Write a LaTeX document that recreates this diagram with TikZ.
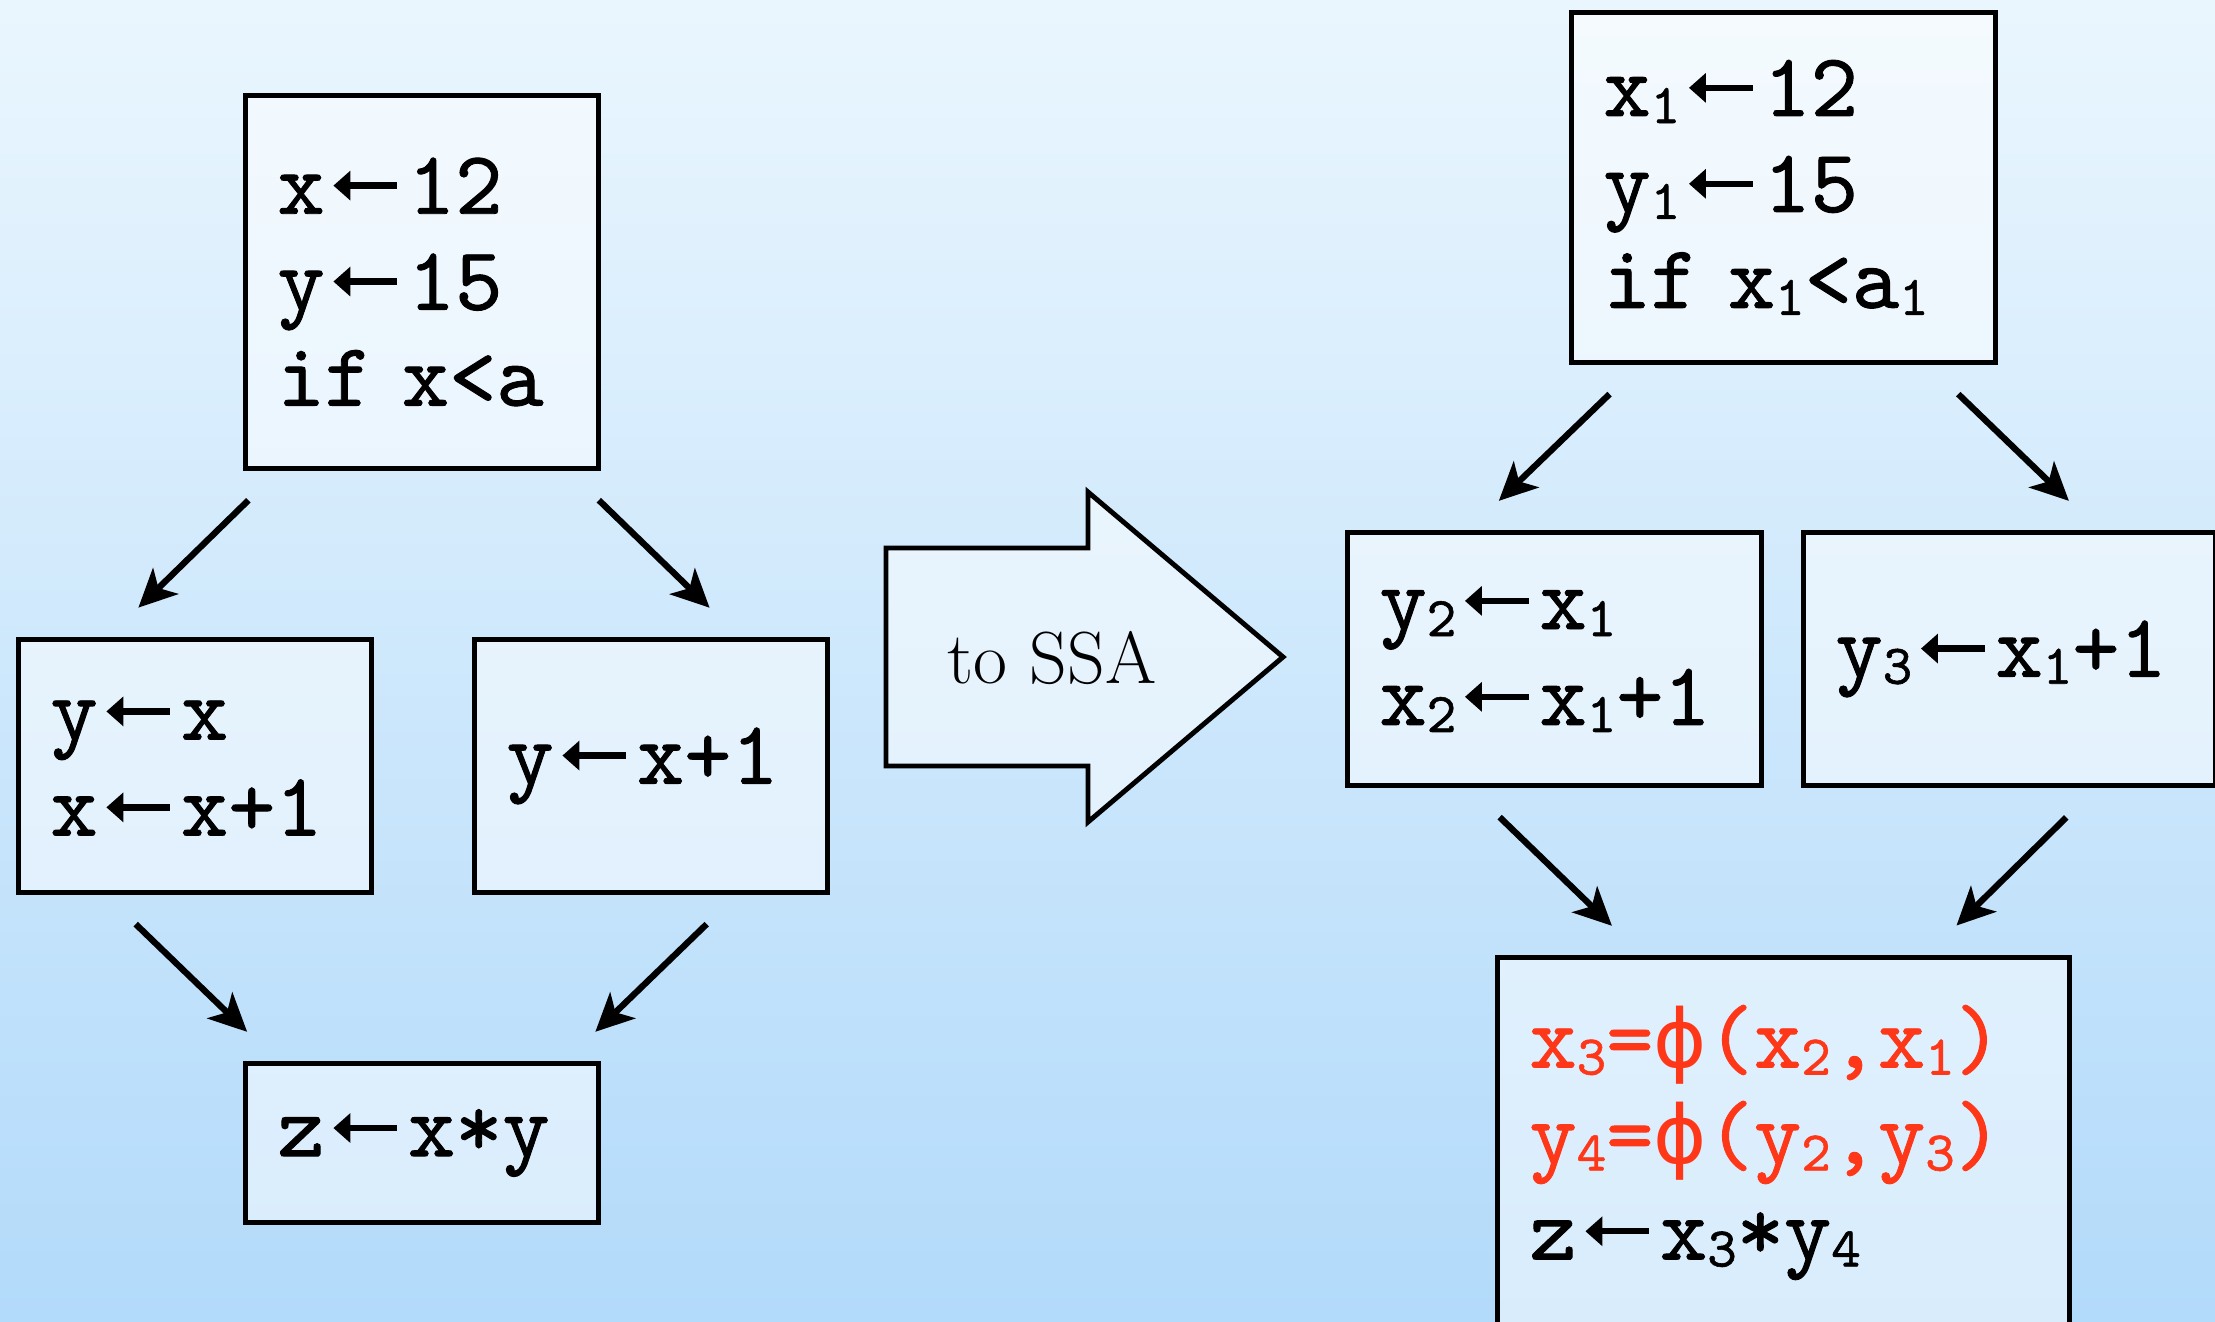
\documentclass[tikz,border=0pt]{standalone}
\usepackage{fontspec}
\usetikzlibrary{calc,arrows.meta}

\newfontfamily\codefont{lmmono10-regular.otf}[FakeBold=1]
\newfontfamily\phifont{DejaVu Sans}

\definecolor{bgtop}{RGB}{234,246,254}
\definecolor{bgbottom}{RGB}{178,218,250}
\definecolor{phired}{RGB}{255,55,25}

\newcommand{\asg}{\hspace{2.5pt}\tikz[baseline=0pt]{
\fill[black, fill opacity=1] (0,8pt) -- (4.8pt,12.25pt) -- (4.8pt,3.75pt) -- cycle;
\fill[black, fill opacity=1] (4pt,7.1pt) rectangle (18.2pt,8.9pt);}\hspace{3pt}}
\newcommand{\subn}[1]{\raisebox{-2pt}{\fontsize{16}{16}\selectfont #1}}
\newcommand{\phis}{{\fontsize{23}{23}\selectfont\phifont ϕ}}

\tikzset{
codebox/.style={draw=black, line width=1.4pt, fill=white, fill opacity=0.5,
text opacity=1, anchor = north west, inner xsep=0.32cm, inner ysep=0pt,
align=left, font={\fontsize{25.6}{27.3}\selectfont\codefont}},
flow/.style={line width=1.8pt, -{Stealth[length=0.38cm, width=0.36cm, inset=0.1cm]},
shorten <=0.42cm, shorten >=0.42cm}
}

\begin{document}
\begin{tikzpicture}

\useasboundingbox (0,0) rectangle (22.15,13.21);
\shade [top color=bgtop, bottom color=bgbottom] (0,0) rectangle (22.15,13.21);


%% before
\node [codebox, text width=2.89cm, minimum height=3.73cm] (ltop)
 at (2.43, 12.28) {x\asg 12\\y\asg 15\\if~x<a};


\node [codebox, text width=2.89cm, minimum height=2.53cm] (lleft)
 at (.16, 6.84) {y\asg x\\x\asg x+1};


\node [codebox, text width=2.89cm, minimum height=2.53cm] (lright)
 at (4.72, 6.84) {y\asg x+1};


\node [codebox, text width=2.89cm, minimum height=1.59cm] (lbot)
 at (2.43, 2.60) {z\asg x*y};


\draw [flow] ($(ltop.south west)!.099!(ltop.south east)$) -- ($(lleft.north west)!.258!(lleft.north east)$);
\draw [flow] ($(ltop.south west)!.91!(ltop.south east)$) -- ($(lright.north west)!.748!(lright.north east)$);
\draw [flow] ($(lleft.south west)!.25!(lleft.south east)$) -- ($(lbot.north west)!.096!(lbot.north east)$);
\draw [flow] ($(lright.south west)!.74!(lright.south east)$) -- ($(lbot.north west)!.90!(lbot.north east)$);


%% the big arrow
\draw [line width=1.4pt, fill=white, fill opacity=0.5]
 (8.86,7.73) -- (10.88,7.73) -- (10.88,8.29) -- (12.83,6.64) -- (10.88,4.99)
 -- (10.88,5.55) -- (8.86,5.55) -- cycle;

\node [anchor=base, font={\fontsize{21}{21}\selectfont}] (tossa)
 at (10.52, 6.38) {to SSA};


%% after
\node [codebox, text width=3.60cm, minimum height=3.50cm] (rtop)
 at (15.69, 13.11) {x\subn1\asg 12\\y\subn1\asg 15\\if~x\subn1<a\subn1};


\node [codebox, text width=3.50cm, minimum height=2.53cm] (rmleft)
 at (13.45, 7.91) {y\subn2\asg x\subn1\\x\subn2\asg x\subn1+1};


\node [codebox, text width=3.48cm, minimum height=2.53cm] (rmright)
 at (18.01, 7.91) {y\subn3\asg x\subn1+1};


\node [codebox, text width=5.08cm, minimum height=3.70cm] (rbot)
 at (14.95, 3.66) {\textcolor{phired}{x\subn3=\phis(x\subn2,x\subn1)}\\
\textcolor{phired}{y\subn4=\phis(y\subn2,y\subn3)}\\
z\asg x\subn3*y\subn4};


\draw [flow] ($(rtop.south west)!.165!(rtop.south east)$) -- ($(rmleft.north west)!.295!(rmleft.north east)$);
\draw [flow] ($(rtop.south west)!.837!(rtop.south east)$) -- ($(rmright.north west)!.715!(rmright.north east)$);
\draw [flow] ($(rmleft.south west)!.297!(rmleft.south east)$) -- ($(rbot.north west)!.255!(rbot.north east)$);
\draw [flow] ($(rmright.south west)!.708!(rmright.south east)$) -- ($(rbot.north west)!.748!(rbot.north east)$);

\end{tikzpicture}
\end{document}
